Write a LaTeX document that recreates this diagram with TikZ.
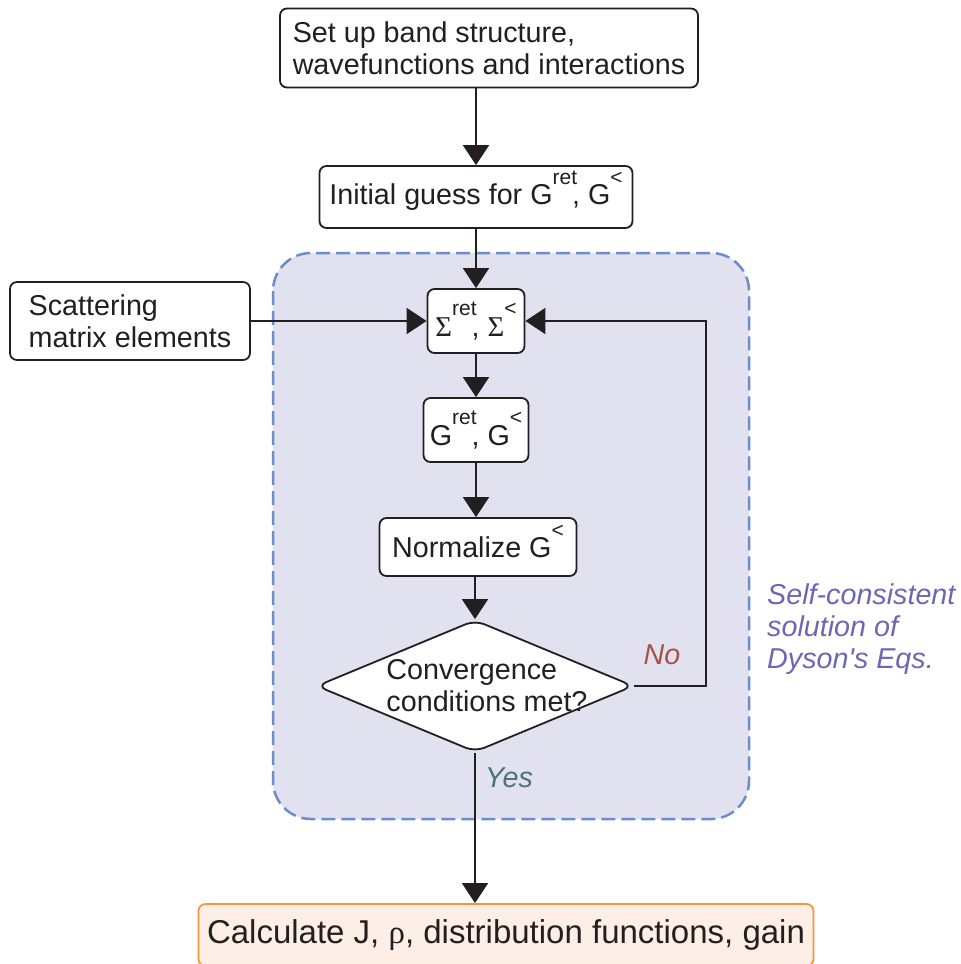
\documentclass[tikz,border=0pt]{standalone}
\usepackage{fontspec}
\setmainfont{Liberation Sans}
\newfontfamily\greekfont{Liberation Serif}
\usetikzlibrary{positioning, shapes.geometric, arrows.meta}

\definecolor{loopfill}{HTML}{E1E1F0}
\definecolor{loopline}{HTML}{6B8DCB}
\definecolor{loopnote}{HTML}{6B68B3}
\definecolor{nocol}{HTML}{A65440}
\definecolor{yescol}{HTML}{4D7474}
\definecolor{resfill}{HTML}{FDEFE6}
\definecolor{resline}{HTML}{F5953D}
\definecolor{ink}{HTML}{231F20}

\newcommand{\sig}{{\greekfont Σ}}
\newcommand{\hi}[1]{\raisebox{0.7em}{\fontsize{21}{21}\selectfont #1}}
\newcommand{\hs}[1]{\smash{\hi{#1}}}

\begin{document}
\begin{tikzpicture}[x=1pt, y=-1pt,
    font=\fontsize{28.7}{32}\selectfont, text=ink,
    box/.style={draw=ink, rounded corners=7pt, line width=1.8pt, fill=white, inner sep=0pt, align=center},
    flow/.style={draw=ink, line width=1.8pt, -{Triangle[width=26pt, length=20pt]}},
    note/.style={font=\fontsize{28.7}{32}\selectfont\itshape}]
    \useasboundingbox (0,0) rectangle (961,964);

    % self-consistent loop
    \draw[loopline, fill=loopfill, line width=2.5pt, dash pattern=on 14pt off 6pt, rounded corners=38pt] (273,253) rectangle (749,819);

    \node[box, minimum width=418, minimum height=79, align=left] (setup) at (489,48) {Set up band structure,\\wavefunctions and interactions};
    \node[box, minimum width=313, minimum height=62] (init) at (476,197) {Initial guess for G\hs{ret}\kern-5pt, G\hs{<}};
    \node[box, minimum width=240, minimum height=78, align=left] (scat) at (130,321) {Scattering\\matrix elements};
    \node[box, minimum width=97, minimum height=64] (sigma) at (476,321) {\sig\hi{ret}\kern-5pt, \sig\hi{<}};
    \node[box, minimum width=105, minimum height=64] (green) at (476,430) {G\hi{ret}\kern-5pt, G\hi{<}};
    \node[box, minimum width=197, minimum height=58] (norm) at (478,547) {Normalize G\hs{<}};
    \node[box, diamond, rounded corners=10pt, minimum width=317, minimum height=132,
        label={[align=left, xshift=12pt]center:Convergence\\conditions met?}] (cond) at (475,686) {};
    \node[box, draw=resline, fill=resfill, minimum width=615, minimum height=62,
        font=\fontsize{33}{38}\selectfont] (calc) at (506,935) {Calculate J, {\greekfont ρ}, distribution functions, gain};

    \node[note, text=nocol] (no) at (662,655) {No};
    \node[note, text=yescol] (yes) at (509,778) {Yes};
    \node[note, text=loopnote, anchor=west, align=left, inner sep=0pt] (dyson) at (767,629) {Self-consistent\\solution of\\Dyson\textquotesingle s Eqs.};

    % Draw edges
    \draw[flow] (setup.south -| init.north) -- (init.north);
    \draw[flow] (init.south) -- (init.south |- sigma.north);
    \draw[flow] (scat.east) -- (sigma.west);
    \draw[flow] (sigma.south) -- (sigma.south |- green.north);
    \draw[flow] (green.south) -- (green.south |- norm.north);
    \draw[flow] (norm.south -| cond.north) -- (cond.north);
    \coordinate (turn) at (706,686);
    \draw[flow] (cond.east) -- (turn) |- (sigma.east);
    \draw[flow] (cond.south) -- (cond.south |- calc.north);
\end{tikzpicture}
\end{document}
